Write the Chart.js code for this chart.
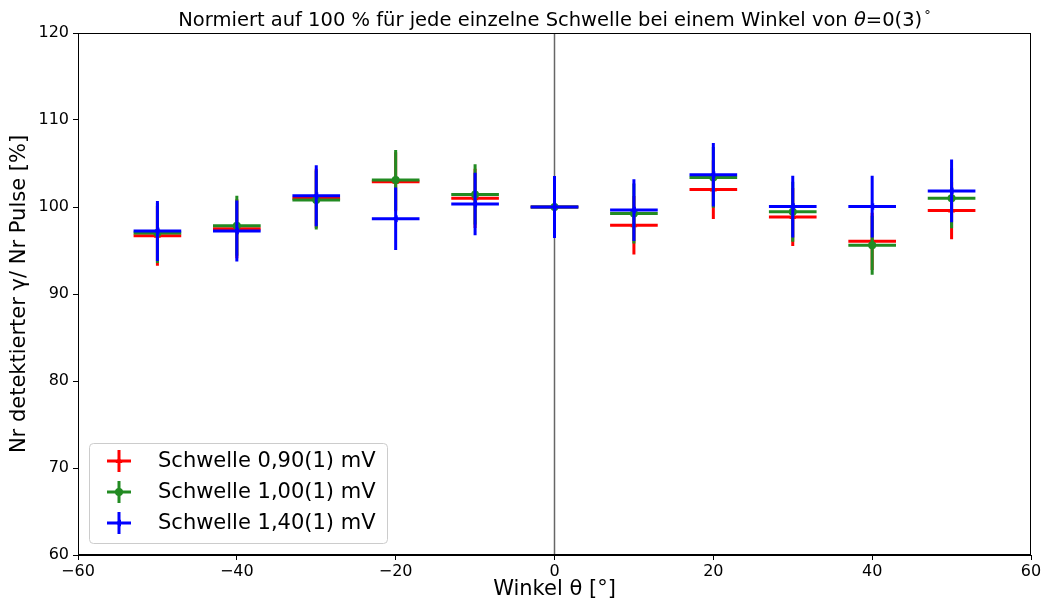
<!DOCTYPE html>
<html lang="de">
<head>
<meta charset="UTF-8">
<title>Normierte Zählrate je Schwelle</title>
<script src="https://cdn.jsdelivr.net/npm/chart.js"></script>
<style>
  html, body { margin: 0; padding: 0; background: #fff; }
  #wrap { width: 1045px; height: 602px; }
</style>
</head>
<body>
<div id="wrap"><canvas id="rateChart" width="1045" height="602"></canvas></div>
<script>
// Winkel in Grad und deren Unsicherheit
const angles   = [-50, -40, -30, -20, -10, 0, 10, 20, 30, 40, 50];
const angleErr = [3, 3, 3, 3, 3, 3, 3, 3, 3, 3, 3];

// normierte Rate in % pro Schwelle
const rate090 = [96.7, 97.5, 101.0, 102.9, 101.0, 100.0, 97.9, 102.0, 98.85, 96.05, 99.6];
const err090  = [3.45, 3.4, 3.4, 3.4, 3.4, 3.4, 3.37, 3.37, 3.33, 3.3, 3.3];
const rate100 = [97.0, 97.85, 100.8, 103.1, 101.45, 100.0, 99.25, 103.4, 99.45, 95.6, 101.0];
const err100  = [3.45, 3.45, 3.4, 3.45, 3.45, 3.45, 3.45, 3.5, 3.45, 3.4, 3.45];
const rate140 = [97.25, 97.25, 101.3, 98.65, 100.35, 100.0, 99.65, 103.7, 100.05, 100.05, 101.85];
const err140  = [3.45, 3.5, 3.5, 3.6, 3.6, 3.55, 3.55, 3.65, 3.55, 3.55, 3.6];

const seriesLabels = ['Schwelle 0,90(1) mV', 'Schwelle 1,00(1) mV', 'Schwelle 1,40(1) mV'];

const xTicks = [-60, -40, -20, 0, 20, 40, 60];
const yTicks = [60, 70, 80, 90, 100, 110, 120];

// Titel in Stücken: [Text, kursiv, hochgestellt]
const titleParts = [
    ['Normiert auf 100 % für jede einzelne Schwelle bei einem Winkel von ', false, false],
    ['θ', true, false],
    ['=0(3)', false, false],
    ['°', false, true]
];

const FONT = "'DejaVu Sans', sans-serif";

function toPoints(ys, yerr) {
    return angles.map((x, i) => ({ x: x, y: ys[i], xErr: angleErr[i], yErr: yerr[i] }));
}

function minus(v) {
    return String(v).replace('-', '\u2212');
}

// Fehlerbalken (ohne Kappen) direkt vor den Markern jedes Datensatzes
const errorBars = {
    id: 'errorBars',
    beforeDatasetDraw(chart, args) {
        const ds = chart.data.datasets[args.index];
        const xs = chart.scales.x, ys = chart.scales.y;
        const ctx = chart.ctx;
        ctx.save();
        ctx.strokeStyle = ds.borderColor;
        ctx.lineWidth = 3;
        ctx.lineCap = 'butt';
        ds.data.forEach(p => {
            const px = xs.getPixelForValue(p.x);
            const py = ys.getPixelForValue(p.y);
            ctx.beginPath();
            ctx.moveTo(xs.getPixelForValue(p.x - p.xErr), py);
            ctx.lineTo(xs.getPixelForValue(p.x + p.xErr), py);
            ctx.moveTo(px, ys.getPixelForValue(p.y - p.yErr));
            ctx.lineTo(px, ys.getPixelForValue(p.y + p.yErr));
            ctx.stroke();
        });
        ctx.restore();
    }
};

function partFont(p) {
    return (p[1] ? 'italic ' : '') + (p[2] ? '13px ' : '19.5px ') + FONT;
}

// Rahmen, Nulllinie, Titel und Legende
const frame = {
    id: 'frame',
    beforeDatasetsDraw(chart) {
        const { ctx, chartArea: a } = chart;
        const x0 = chart.scales.x.getPixelForValue(0);
        ctx.save();
        ctx.strokeStyle = 'rgba(0,0,0,0.6)';
        ctx.lineWidth = 1.5;
        ctx.beginPath();
        ctx.moveTo(x0, a.top);
        ctx.lineTo(x0, a.bottom);
        ctx.stroke();
        ctx.restore();
    },
    afterDraw(chart) {
        const { ctx, chartArea: a } = chart;
        ctx.save();
        ctx.strokeStyle = '#000';
        ctx.lineWidth = 1;
        ctx.strokeRect(a.left + 0.5, a.top + 0.5, a.right - a.left - 1, a.bottom - a.top - 1);

        // Titel über der Achsenmitte
        ctx.fillStyle = '#000';
        ctx.textBaseline = 'alphabetic';
        ctx.textAlign = 'left';
        let total = 0;
        titleParts.forEach(p => { ctx.font = partFont(p); total += ctx.measureText(p[0]).width + (p[2] ? 2 : 0); });
        let tx = (a.left + a.right) / 2 - total / 2;
        const base = a.top - 7;
        titleParts.forEach(p => {
            ctx.font = partFont(p);
            if (p[2]) tx += 2;
            ctx.fillText(p[0], tx, p[2] ? base - 7 : base);
            tx += ctx.measureText(p[0]).width;
        });

        // Legende unten links
        const bx = a.left + 11, bw = 298, bh = 100;
        const by = a.bottom - 12 - bh;
        ctx.beginPath();
        ctx.roundRect(bx + 0.5, by + 0.5, bw, bh, 4);
        ctx.fillStyle = 'rgba(255,255,255,0.8)';
        ctx.fill();
        ctx.strokeStyle = '#cccccc';
        ctx.stroke();

        chart.data.datasets.forEach((ds, i) => {
            const cy = by + 18 + i * 31;
            const cx = bx + 30;
            ctx.strokeStyle = ds.borderColor;
            ctx.lineWidth = 3;
            ctx.beginPath();
            ctx.moveTo(cx - 12, cy);
            ctx.lineTo(cx + 12, cy);
            ctx.moveTo(cx, cy - 11);
            ctx.lineTo(cx, cy + 11);
            ctx.stroke();
            ctx.fillStyle = ds.backgroundColor;
            Chart.helpers.drawPoint(ctx, {
                pointStyle: ds.pointStyle, rotation: ds.pointRotation || 0,
                radius: ds.pointRadius, borderWidth: 0
            }, cx, cy);
            ctx.fillStyle = '#000';
            ctx.font = '21px ' + FONT;
            ctx.textBaseline = 'middle';
            ctx.textAlign = 'left';
            ctx.fillText(ds.label, bx + 69, cy + 1);
        });
        ctx.restore();
    }
};

function makeSet(label, ys, yerr, color, style, rot, order) {
    return {
        label: label,
        data: toPoints(ys, yerr),
        borderColor: color,
        backgroundColor: color,
        pointStyle: style,
        pointRotation: rot,
        pointRadius: 4,
        pointBorderWidth: 0,
        showLine: false,
        order: order
    };
}

const ctx = document.getElementById('rateChart').getContext('2d');
new Chart(ctx, {
    type: 'scatter',
    data: {
        datasets: [
            makeSet(seriesLabels[0], rate090, err090, '#ff0000', 'triangle', 0, 3),
            makeSet(seriesLabels[1], rate100, err100, '#228b22', 'circle', 0, 2),
            makeSet(seriesLabels[2], rate140, err140, '#0000ff', 'triangle', -90, 1)
        ]
    },
    options: {
        responsive: false,
        animation: false,
        layout: { padding: { left: 0, right: 14, top: 33, bottom: 0 } },
        plugins: {
            legend: { display: false },
            tooltip: { enabled: false },
            title: { display: false }
        },
        scales: {
            x: {
                type: 'linear',
                min: -60, max: 60,
                afterBuildTicks(scale) { scale.ticks = xTicks.map(v => ({ value: v })); },
                afterFit(scale) { scale.height = 47; },
                grid: { drawOnChartArea: false, drawTicks: true, tickLength: 5, tickColor: '#000' },
                border: { color: '#000', width: 1 },
                ticks: { color: '#000', font: { family: FONT, size: 16 }, padding: 2, callback: v => minus(v) },
                title: {
                    display: true, text: 'Winkel θ [°]', color: '#000',
                    font: { family: FONT, size: 21 }, padding: { top: 0, bottom: 0 }
                }
            },
            y: {
                type: 'linear',
                min: 60, max: 120,
                afterBuildTicks(scale) { scale.ticks = yTicks.map(v => ({ value: v })); },
                afterFit(scale) { scale.width = 78; },
                grid: { drawOnChartArea: false, drawTicks: true, tickLength: 5, tickColor: '#000' },
                border: { color: '#000', width: 1 },
                ticks: { color: '#000', font: { family: FONT, size: 16 }, padding: 4, callback: v => minus(v) },
                title: {
                    display: true, text: 'Nr detektierter γ/ Nr Pulse [%]', color: '#000',
                    font: { family: FONT, size: 21 }, padding: { top: 7, bottom: 0 }
                }
            }
        }
    },
    plugins: [errorBars, frame]
});
</script>
</body>
</html>
